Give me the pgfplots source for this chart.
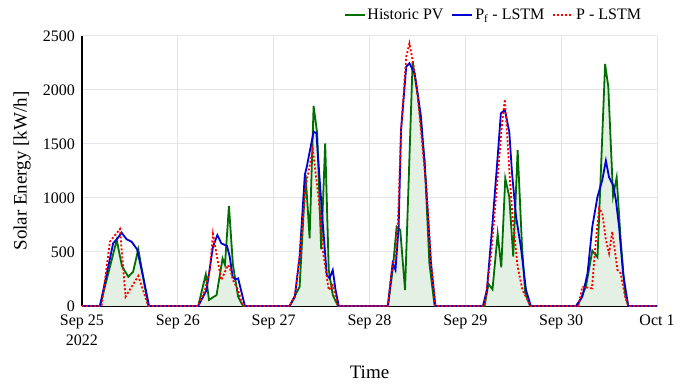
\documentclass[border=0pt]{standalone}
\usepackage{fontspec}
\setmainfont{Liberation Serif}
\usepackage{pgfplots}
\pgfplotsset{compat=1.18}
\definecolor{pvgreen}{RGB}{0,110,0}
\definecolor{pvfill}{RGB}{228,240,228}
\definecolor{lstmblue}{RGB}{0,0,210}
\definecolor{lstmred}{RGB}{255,0,0}
\definecolor{gridc}{RGB}{226,229,233}

\begin{document}
\begin{tikzpicture}
\path[use as bounding box] (-82pt,-79pt) rectangle (612pt,306pt);
\begin{axis}[
  at={(0pt,0pt)}, anchor=south west,
  width=575pt, height=270pt, scale only axis,
  xmin=0, xmax=144, ymin=0, ymax=2500,
  clip=false,
  axis x line=bottom, axis y line=left,
  axis line style={-, line width=1.2pt, black},
  major tick length=0pt,
  xtick={0,24,48,72,96,120,144},
  xticklabels={{Sep 25\\2022},{Sep 26},{Sep 27},{Sep 28},{Sep 29},{Sep 30},{Oct 1}},
  ytick={0,500,1000,1500,2000,2500},
  /pgf/number format/assume math mode=true,
  /pgf/number format/1000 sep={},
  tick label style={font=\rmfamily\fontsize{16}{20}\selectfont},
  xticklabel style={align=center, anchor=north, inner sep=0pt, yshift=-9pt},
  yticklabel style={anchor=east, inner sep=0pt, xshift=-7pt},
  grid=major,
  major grid style={gridc, line width=1pt},
  xlabel={Time}, ylabel={Solar Energy [kW/h]},
  every axis x label/.style={at={(axis description cs:0.5,-0.2444)}, anchor=center, font=\rmfamily\fontsize{19}{22}\selectfont},
  every axis y label/.style={at={(axis description cs:-0.1043,0.5)}, rotate=90, anchor=center, font=\rmfamily\fontsize{19}{22}\selectfont},
  legend columns=3,
  legend style={at={(0.7155,1.078)}, anchor=center, draw=none, fill=none,
    font=\rmfamily\fontsize{16}{19}\selectfont,
    /tikz/every even column/.append style={column sep=6pt}},
  legend image code/.code={\draw[#1] (0pt,0pt) -- (20pt,0pt);},
]
% fill under historic PV
\addplot[draw=none, fill=pvfill, forget plot] coordinates {
(0,0)
(4.5,0) (8.7,611) (10.0,370) (11.6,271) (12.8,318) (14.1,525) (16.6,0)
(29.1,0) (31.0,293) (31.8,56) (33.7,102) (35.2,441) (35.8,380) (36.8,926) (37.8,380) (39.1,86) (40.3,0)
(52.0,0) (54.5,179) (56.0,1213) (57.0,627) (58.0,1852) (58.9,1599) (59.9,525) (60.9,1506) (61.8,333) (62.8,102) (64.1,0)
(76.6,0) (77.8,333) (78.8,734) (79.7,704) (80.9,148) (82.8,2262) (84.1,1950) (85.8,1350) (87.0,395) (88.3,0)
(100.8,0) (101.8,204) (102.8,154) (104.1,667) (105.0,358) (106.0,1182) (107.0,1012) (108.0,457) (109.1,1444) (110.2,549) (111.0,117) (112.2,0)
(124.1,0) (126.2,179) (127.8,512) (129.1,451) (131.0,2241) (131.8,2031) (133.0,1019) (133.9,1191) (134.9,611) (136.0,117) (136.8,0)
(144,0)
} \closedcycle;
% Historic PV
\addplot[pvgreen, line width=1.8pt] coordinates {
(0,0)
(4.5,0) (8.7,611) (10.0,370) (11.6,271) (12.8,318) (14.1,525) (16.6,0)
(29.1,0) (31.0,293) (31.8,56) (33.7,102) (35.2,441) (35.8,380) (36.8,926) (37.8,380) (39.1,86) (40.3,0)
(52.0,0) (54.5,179) (56.0,1213) (57.0,627) (58.0,1852) (58.9,1599) (59.9,525) (60.9,1506) (61.8,333) (62.8,102) (64.1,0)
(76.6,0) (77.8,333) (78.8,734) (79.7,704) (80.9,148) (82.8,2262) (84.1,1950) (85.8,1350) (87.0,395) (88.3,0)
(100.8,0) (101.8,204) (102.8,154) (104.1,667) (105.0,358) (106.0,1182) (107.0,1012) (108.0,457) (109.1,1444) (110.2,549) (111.0,117) (112.2,0)
(124.1,0) (126.2,179) (127.8,512) (129.1,451) (131.0,2241) (131.8,2031) (133.0,1019) (133.9,1191) (134.9,611) (136.0,117) (136.8,0)
(144,0)
};
\addlegendentry{Historic PV}
% Pf - LSTM
\addplot[lstmblue, line width=1.8pt] coordinates {
(0,0)
(4.5,0) (7.8,580) (9.1,636) (9.9,679) (11.2,617) (12.4,596) (13.8,525) (15.3,271) (16.8,0)
(29.1,0) (31.2,148) (32.8,549) (33.9,657) (34.9,580) (36.3,556) (37.0,457) (37.7,272) (38.4,247) (39.1,256) (40.8,0)
(52.0,0) (53.3,86) (54.5,457) (55.8,1213) (56.3,1290) (58.0,1614) (58.7,1599) (60.3,765) (61.3,287) (62.0,256) (62.8,333) (63.5,148) (64.3,0)
(76.6,0) (77.8,395) (78.5,333) (79.3,734) (79.9,1630) (81.2,2216) (82.0,2247) (83.3,2154) (84.9,1753) (86.2,1105) (87.4,395) (88.5,0)
(100.4,0) (101.4,148) (102.8,765) (104.1,1383) (104.9,1784) (105.9,1815) (107.0,1614) (107.7,1228) (108.7,827) (109.9,549) (111.2,148) (112.4,0)
(123.7,0) (125.3,86) (126.6,302) (127.8,735) (129.1,1012) (130.3,1167) (131.2,1346) (132.0,1191) (133.0,1120) (133.7,981) (134.5,735) (135.5,302) (136.8,0)
(144,0)
};
\addlegendentry{P\textsubscript{f} - LSTM}
% P - LSTM
\addplot[lstmred, line width=1.8pt, dash pattern=on 2pt off 2pt] coordinates {
(0,0)
(4.9,0) (7.0,596) (8.3,657) (9.5,713) (10.9,86) (14.1,278) (16.6,0)
(29.1,0) (30.8,148) (32.0,333) (32.8,667) (33.8,457) (34.9,241) (36.0,333) (36.6,380) (37.2,333) (37.8,241) (39.1,148) (40.3,0)
(52.0,0) (53.3,86) (54.5,457) (56.0,1105) (57.8,1451) (59.3,981) (60.3,519) (61.8,148) (62.8,194) (64.1,0)
(76.6,0) (77.8,395) (78.5,420) (79.1,765) (79.9,1630) (81.2,2308) (82.0,2432) (82.8,2278) (84.1,1938) (86.2,1105) (87.4,395) (88.5,0)
(100.8,0) (102.4,457) (104.1,1197) (105.2,1691) (105.9,1914) (106.8,1383) (107.8,827) (109.1,364) (110.3,148) (112.4,0)
(124.3,0) (125.3,179) (127.7,164) (128.7,611) (129.5,904) (130.3,858) (131.2,611) (132.0,488) (132.8,688) (134.1,333) (134.9,302) (136.0,86) (136.8,0)
(144,0)
};
\addlegendentry{P - LSTM}
\end{axis}
\end{tikzpicture}
\end{document}
